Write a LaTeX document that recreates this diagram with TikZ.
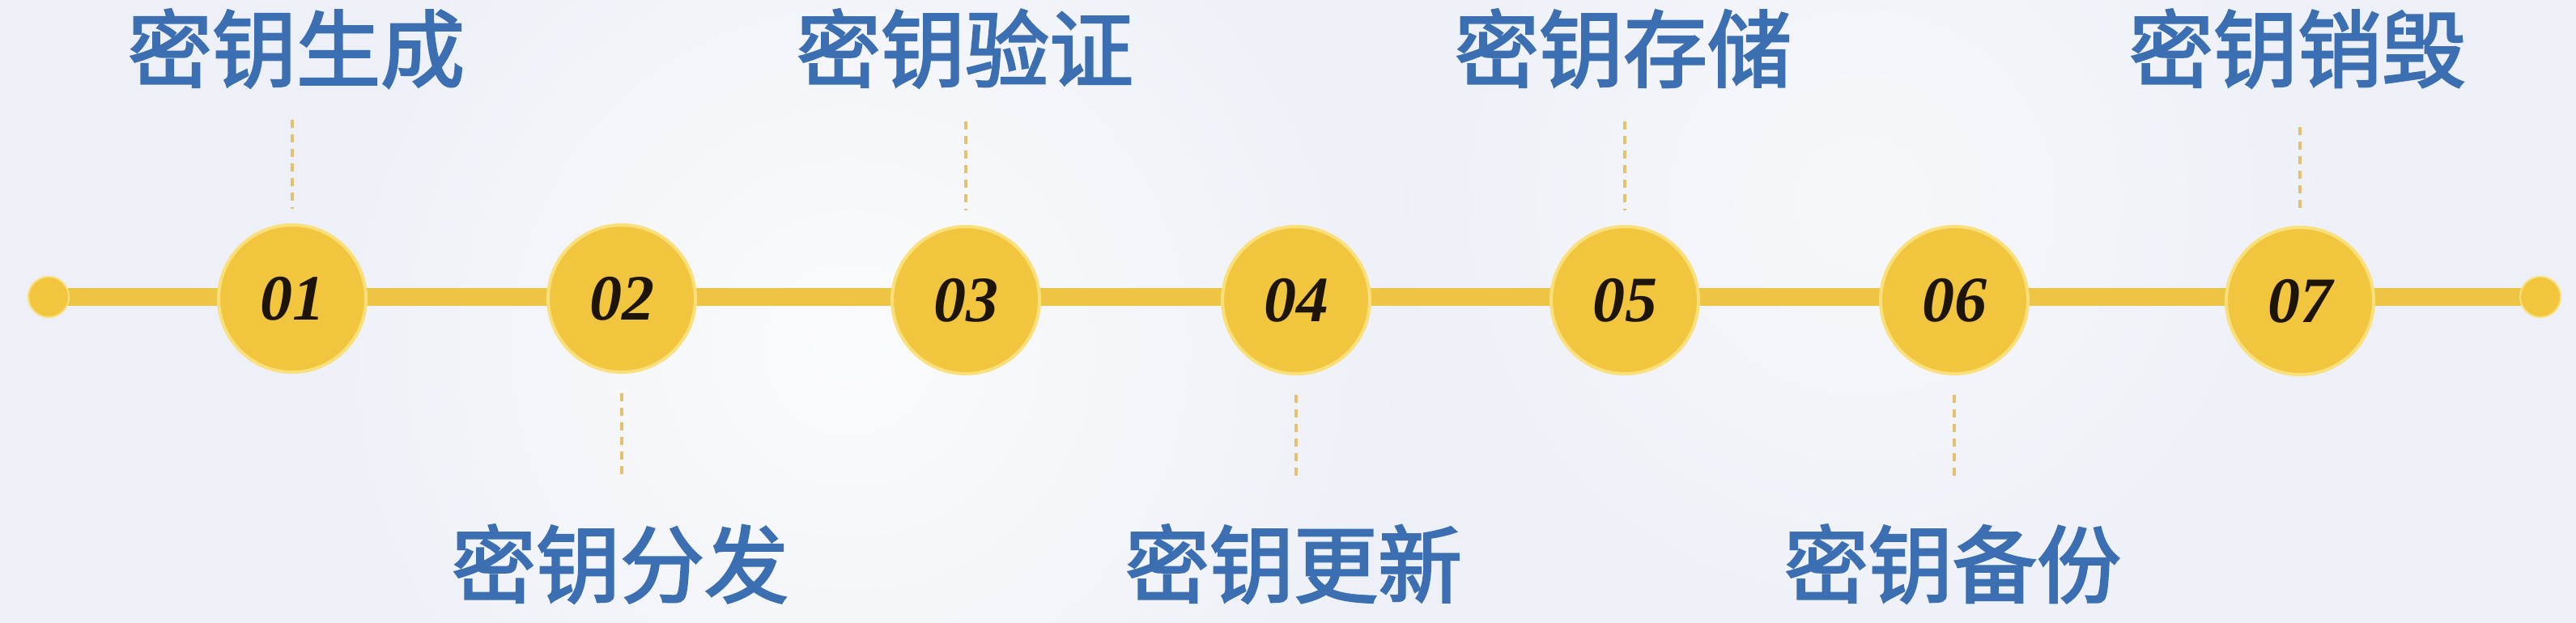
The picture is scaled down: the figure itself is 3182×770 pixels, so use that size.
\documentclass[tikz,border=0pt]{standalone}
\usepackage{fontspec}
\setmainfont{Liberation Serif}
\newfontfamily\cjk{Noto Sans CJK SC}[FakeBold=2.5]
\definecolor{bgcol}{HTML}{EDF0F7}
\definecolor{ycol}{HTML}{F2C53E}
\definecolor{rimcol}{HTML}{FAE07A}
\definecolor{trackcol}{HTML}{EDC444}
\definecolor{dashcol}{HTML}{E4C170}
\definecolor{bluecol}{HTML}{3B6FB1}
\definecolor{numcol}{HTML}{1E150A}
\pgfdeclarelayer{bglayer}
\pgfdeclarelayer{tracklayer}
\pgfsetlayers{bglayer,tracklayer,main}
\tikzset{
  stepcircle/.style={circle, fill=ycol, draw=rimcol, line width=4pt, minimum size=182pt, inner sep=0pt, outer sep=0pt,
    font=\fontsize{80}{80}\selectfont\bfseries\itshape, text=numcol},
  enddot/.style={circle, fill=ycol, draw=rimcol, line width=2pt, minimum size=50pt, inner sep=0pt, outer sep=0pt},
  steplabel/.style={font=\cjk\fontsize{104}{110}\selectfont, text=bluecol, inner sep=0pt},
  track/.style={draw=trackcol, line width=22pt},
  guide/.style={draw=dashcol, line width=3.5pt, dash pattern=on 10pt off 8pt}
}
\begin{document}
\begin{tikzpicture}[x=1pt,y=-1pt]
\useasboundingbox (0,0) rectangle (3182,770);
\begin{pgfonlayer}{bglayer}
  \fill[bgcol] (0,0) rectangle (3182,770);
  \shade[inner color=white!75!bgcol, outer color=bgcol] (1050,430) circle (700);
  \shade[inner color=white!50!bgcol, outer color=bgcol] (2300,250) circle (600);
\end{pgfonlayer}

\node[enddot] (L) at (60,367) {};
\node[enddot] (R) at (3138,367) {};

\node[stepcircle] (c1) at (361,369) {01};
\node[stepcircle] (c2) at (768,369) {02};
\node[stepcircle] (c3) at (1193,371) {03};
\node[stepcircle] (c4) at (1601,371) {04};
\node[stepcircle] (c5) at (2007,371) {05};
\node[stepcircle] (c6) at (2414,371) {06};
\node[stepcircle] (c7) at (2841,372) {07};

\begin{pgfonlayer}{tracklayer}
  \draw[track] (L.center) -- (R.center);
\end{pgfonlayer}

\node[steplabel] (t1) at (366,60) {密钥生成};
\node[steplabel] (t2) at (766,697) {密钥分发};
\node[steplabel] (t3) at (1192,60) {密钥验证};
\node[steplabel] (t4) at (1598,697) {密钥更新};
\node[steplabel] (t5) at (2005,60) {密钥存储};
\node[steplabel] (t6) at (2412,697) {密钥备份};
\node[steplabel] (t7) at (2838,60) {密钥销毁};

\coordinate (a1) at (361,148);
\coordinate (a3) at (1193,150);
\coordinate (a5) at (2007,150);
\coordinate (a7) at (2841,157);
\coordinate (b2) at (768,590);
\coordinate (b4) at (1601,594);
\coordinate (b6) at (2414,594);

\draw[guide] (a1) -- ([yshift=20pt]c1.north);
\draw[guide] (a3) -- ([yshift=20pt]c3.north);
\draw[guide] (a5) -- ([yshift=20pt]c5.north);
\draw[guide] (a7) -- ([yshift=20pt]c7.north);
\draw[guide] ([yshift=-26pt]c2.south) -- (b2);
\draw[guide] ([yshift=-26pt]c4.south) -- (b4);
\draw[guide] ([yshift=-26pt]c6.south) -- (b6);
\end{tikzpicture}
\end{document}
